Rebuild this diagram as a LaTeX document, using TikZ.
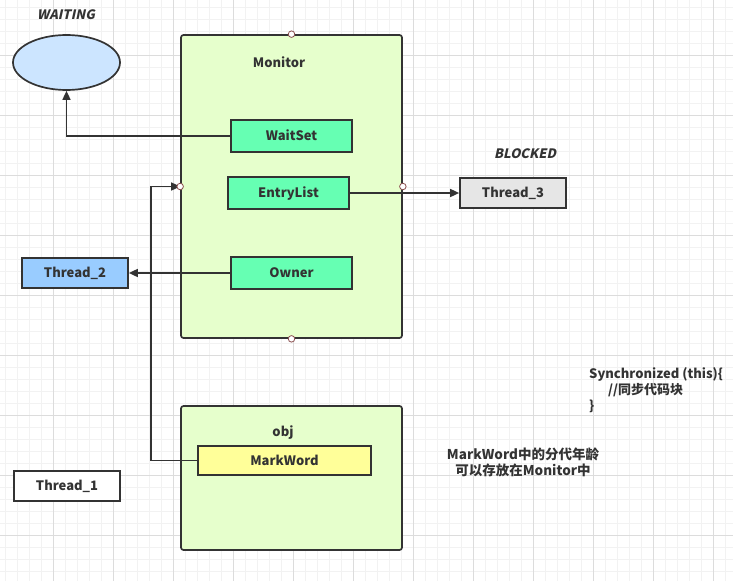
\documentclass[tikz,border=0pt]{standalone}
\usepackage{fontspec}
\setmainfont{Noto Sans CJK SC}
\newfontfamily\slantfont{Noto Sans CJK SC}[FakeSlant=0.22]
\usetikzlibrary{arrows.meta,shapes.geometric}
\definecolor{ink}{HTML}{333333}
\definecolor{gridminor}{HTML}{F2F2F2}
\definecolor{gridmajor}{HTML}{DCDCDC}
\definecolor{waitblue}{HTML}{CCE5FF}
\definecolor{panelgreen}{HTML}{E6FFCC}
\definecolor{mint}{HTML}{66FFB3}
\definecolor{graybox}{HTML}{E6E6E6}
\definecolor{t2blue}{HTML}{99CCFF}
\definecolor{yel}{HTML}{FFFF99}
\definecolor{portred}{HTML}{8A4F4F}
\tikzset{
  ctr/.style={text height=11pt, text depth=1.5pt},
  boxbase/.style={draw=ink, line width=1.7pt, text=ink, font=\bfseries\fontsize{13}{15}\selectfont, inner sep=0pt, ctr},
  panel/.style={boxbase, fill=panelgreen, rounded corners=2.5pt},
  mintbox/.style={boxbase, fill=mint, minimum width=121pt, minimum height=32pt},
  threadbox/.style={boxbase, minimum width=106pt, minimum height=30pt},
  lbl/.style={text=ink, font=\bfseries\fontsize{13}{15}\selectfont, inner sep=0pt},
  statelbl/.style={text=ink, font=\slantfont\bfseries\fontsize{13}{15}\selectfont, inner sep=0pt, ctr},
  conn/.style={draw=ink, line width=1.6pt, -{Triangle[length=9pt,width=8pt]}},
  plainconn/.style={draw=ink, line width=1.6pt},
  port/.style={circle, draw=portred, fill=white, line width=0.8pt, minimum size=6.5pt, inner sep=0pt}
}
\begin{document}
\begin{tikzpicture}[x=1pt,y=-1pt]
\useasboundingbox (0,0) rectangle (733,581);
\fill[white] (0,0) rectangle (733,581);
% grid
\foreach \i in {0,...,61} {
  \pgfmathsetmacro{\gx}{5+12*\i}
  \draw[gridminor, line width=0.6pt] (\gx,0) -- (\gx,581);
}
\foreach \i in {0,...,48} {
  \pgfmathsetmacro{\gy}{7+12*\i}
  \draw[gridminor, line width=0.6pt] (0,\gy) -- (733,\gy);
}
\foreach \i in {0,...,11} {
  \pgfmathsetmacro{\gx}{53+60*\i}
  \draw[gridmajor, line width=0.7pt] (\gx,0) -- (\gx,581);
}
\foreach \i in {0,...,9} {
  \pgfmathsetmacro{\gy}{55+60*\i}
  \draw[gridmajor, line width=0.7pt] (0,\gy) -- (733,\gy);
}

% waiting
\node[statelbl] (waitinglbl) at (66,15) {WAITING};
\node[ellipse, draw=ink, line width=1.7pt, fill=waitblue, minimum width=107pt, minimum height=55pt, inner sep=0pt] (waiting) at (66.5,62.5) {};

% monitor panel
\node[panel, minimum width=221pt, minimum height=303pt] (monitor) at (291.5,186.5) {};
\node[lbl, ctr] (monitorlbl) at (279,63) {Monitor};
\node[mintbox] (waitset) at (291.5,136) {WaitSet};
\node[mintbox] (entrylist) at (288.5,193) {EntryList};
\node[mintbox] (owner) at (291.5,273) {Owner};

% threads
\node[statelbl] (blockedlbl) at (525,154) {BLOCKED};
\node[threadbox, fill=graybox] (thread3) at (513,193) {Thread\_3};
\node[threadbox, fill=t2blue] (thread2) at (75,273) {Thread\_2};
\node[threadbox, fill=white] (thread1) at (67,486) {Thread\_1};

% obj panel
\node[panel, minimum width=221pt, minimum height=144pt] (obj) at (291.5,478) {};
\node[lbl, ctr] (objlbl) at (283,432) {obj};
\node[boxbase, fill=yel, minimum width=173pt, minimum height=29pt] (markword) at (284.5,460.5) {MarkWord};

% texts
\node[lbl, align=left, anchor=north west, font=\bfseries\fontsize{13}{16}\selectfont] (synctext) at (589,367.5) {Synchronized (this)\{\\\hspace*{19pt}//同步代码块\\\}};
\node[lbl, align=center, font=\bfseries\fontsize{13.5}{16}\selectfont] (note) at (523,462) {MarkWord中的分代年龄\\可以存放在Monitor中};

% connectors
\draw[conn] (waitset.west) -| (waiting.south);
\draw[conn] (entrylist.east) -- (thread3.west);
\draw[conn] (owner.west) -- (thread2.east);
\coordinate (bend) at (151,460.5);
\draw[plainconn] (markword.west) -- (bend);
\draw[conn] (bend) |- (monitor.west);

% ports
\node[port] (ptop) at (monitor.north) {};
\node[port] (pbottom) at (monitor.south) {};
\node[port] (pleft) at (monitor.west) {};
\node[port] (pright) at (monitor.east) {};
\end{tikzpicture}
\end{document}
